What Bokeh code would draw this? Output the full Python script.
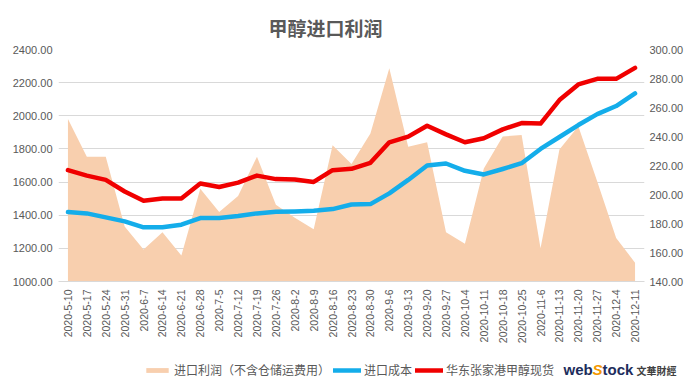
import math
from bokeh.plotting import figure
from bokeh.layouts import column
from bokeh.models import (Range1d, FactorRange, LinearAxis, NumeralTickFormatter,
                          FixedTicker, Legend, LegendItem, Label, ColumnDataSource)
from bokeh.embed import file_html
from bokeh.resources import INLINE

# ---- data ----
dates = ["2020-5-10", "2020-5-17", "2020-5-24", "2020-5-31", "2020-6-7", "2020-6-14",
         "2020-6-21", "2020-6-28", "2020-7-5", "2020-7-12", "2020-7-19", "2020-7-26",
         "2020-8-2", "2020-8-9", "2020-8-16", "2020-8-23", "2020-8-30", "2020-9-6",
         "2020-9-13", "2020-9-20", "2020-9-27", "2020-10-4", "2020-10-11", "2020-10-18",
         "2020-10-25", "2020-11-6", "2020-11-13", "2020-11-20", "2020-11-27", "2020-12-4",
         "2020-12-11"]
profit = [252, 226, 226, 178, 162, 174, 158, 204, 188, 199, 226, 193, 184, 176, 234, 221,
          242, 287, 233, 236, 174, 166, 218, 240, 241, 163, 231, 247, 209, 170, 153]
cost = [1419, 1411, 1387, 1363, 1327, 1327, 1343, 1383, 1383, 1395, 1411, 1421, 1423, 1427,
        1437, 1465, 1467, 1532, 1613, 1700, 1712, 1668, 1646, 1679, 1714, 1800, 1872, 1944,
        2010, 2059, 2135]
spot = [1672, 1639, 1613, 1543, 1487, 1501, 1501, 1591, 1570, 1597, 1639, 1618, 1616, 1601,
        1672, 1680, 1716, 1840, 1874, 1940, 1888, 1840, 1864, 1918, 1956, 1953, 2095, 2189,
        2223, 2223, 2289]
left_ticks = [1000, 1200, 1400, 1600, 1800, 2000, 2200, 2400]
right_ticks = [140, 160, 180, 200, 220, 240, 260, 280, 300]

title_text = "甲醇进口利润"
series_names = ["进口利润（不含仓储运费用）", "进口成本", "华东张家港甲醇现货"]
logo_parts = ["web", "S", "tock", "文華財經"]

AREA_COLOR = "#F8CFAE"
COST_COLOR = "#14ADEA"
SPOT_COLOR = "#F00000"
lab_font = "Liberation Sans"
lab_color = "#595959"

src = ColumnDataSource(dict(date=dates, profit=profit, base=[right_ticks[0]] * len(dates),
                            cost=cost, spot=spot))

p = figure(width=686, height=346, output_backend="svg", toolbar_location=None,
           x_range=FactorRange(*dates, range_padding=0),
           y_range=Range1d(left_ticks[0], left_ticks[-1]),
           min_border_left=58, min_border_right=41, min_border_top=49, min_border_bottom=64)
p.extra_y_ranges = {"right": Range1d(right_ticks[0], right_ticks[-1])}
p.outline_line_color = None
p.background_fill_color = "white"
p.border_fill_color = "white"

p.varea(x="date", y1="base", y2="profit", source=src, y_range_name="right",
        fill_color=AREA_COLOR, fill_alpha=1)
p.line("date", "cost", source=src, line_color=COST_COLOR, line_width=4.5,
       line_join="round", line_cap="round")
p.line("date", "spot", source=src, line_color=SPOT_COLOR, line_width=4.5,
       line_join="round", line_cap="round")

p.title.text = title_text
p.title.align = "left"
p.title.offset = 210
p.title.standoff = 18
p.title.text_font = "Noto Sans CJK SC"
p.title.text_font_size = "19px"
p.title.text_font_style = "bold"
p.title.text_color = lab_color

yl = p.yaxis[0]
yl.ticker = FixedTicker(ticks=left_ticks)
yl.formatter = NumeralTickFormatter(format="0.00")
yl.axis_line_color = None
yl.major_tick_line_color = None
yl.minor_tick_line_color = None
yl.major_tick_out = 0
yl.major_label_text_font = lab_font
yl.major_label_text_font_size = "11px"
yl.major_label_text_color = lab_color
yl.major_label_standoff = 6

yr = LinearAxis(y_range_name="right", ticker=FixedTicker(ticks=right_ticks),
                formatter=NumeralTickFormatter(format="0.00"))
yr.axis_line_color = None
yr.major_tick_line_color = None
yr.minor_tick_line_color = None
yr.major_tick_out = 0
yr.major_label_text_font = lab_font
yr.major_label_text_font_size = "11px"
yr.major_label_text_color = lab_color
yr.major_label_standoff = 5
p.add_layout(yr, "right")

xa = p.xaxis[0]
xa.axis_line_color = "#D9D9D9"
xa.major_tick_line_color = None
xa.minor_tick_line_color = None
xa.major_tick_out = 0
xa.major_label_orientation = math.pi / 2
xa.major_label_text_font = lab_font
xa.major_label_text_font_size = "10.5px"
xa.major_label_text_color = lab_color
xa.major_label_standoff = 8

p.ygrid.ticker = FixedTicker(ticks=left_ticks)
p.ygrid.grid_line_color = "#D9D9D9"
p.xgrid.grid_line_color = None

# ---- legend strip (a second figure whose frame is the whole strip) ----
LW, LH = 686, 34
q = figure(width=LW, height=LH, output_backend="svg", toolbar_location=None,
           x_range=Range1d(0, LW), y_range=Range1d(0, LH),
           x_axis_location=None, y_axis_location=None, min_border=0)
q.frame_align = False
q.outline_line_color = None
q.grid.grid_line_color = None
q.background_fill_color = "white"
q.border_fill_color = "white"

# swatch renderers (kept outside the visible range; only their legend glyphs show)
s_area = q.varea(x=[-50, -40], y1=[-50, -50], y2=[-40, -40], fill_color=AREA_COLOR)
s_cost = q.line(x=[-50, -40], y=[-50, -50], line_color=COST_COLOR, line_width=4.5,
                line_cap="round")
s_spot = q.line(x=[-50, -40], y=[-50, -50], line_color=SPOT_COLOR, line_width=4.5,
                line_cap="round")

legend = Legend(items=[LegendItem(label=series_names[0], renderers=[s_area]),
                       LegendItem(label=series_names[1], renderers=[s_cost]),
                       LegendItem(label=series_names[2], renderers=[s_spot])],
                location=(143, 2), orientation="horizontal",
                glyph_width=28, glyph_height=6, label_standoff=3, spacing=3,
                padding=0, margin=0, label_height=14,
                label_text_font="Noto Sans CJK SC", label_text_font_size="12px",
                label_text_color=lab_color, border_line_color=None,
                background_fill_alpha=0)
q.add_layout(legend)

logo_y = 11
q.add_layout(Label(x=563, y=logo_y, text=logo_parts[0], text_baseline="middle",
                   text_font=lab_font, text_font_size="15px", text_font_style="bold",
                   text_color="#1D2D5C"))
q.add_layout(Label(x=592, y=logo_y, text=logo_parts[1], text_baseline="middle",
                   text_font=lab_font, text_font_size="15px", text_font_style="bold italic",
                   text_color="#F39800"))
q.add_layout(Label(x=602, y=logo_y, text=logo_parts[2], text_baseline="middle",
                   text_font=lab_font, text_font_size="15px", text_font_style="bold",
                   text_color="#1D2D5C"))
q.add_layout(Label(x=636, y=logo_y - 1, text=logo_parts[3], text_baseline="middle",
                   text_font="Noto Sans CJK SC", text_font_size="10px",
                   text_font_style="bold", text_color="#404040"))

layout = column(p, q, spacing=0)
open("out.html", "w").write(file_html(layout, INLINE))
